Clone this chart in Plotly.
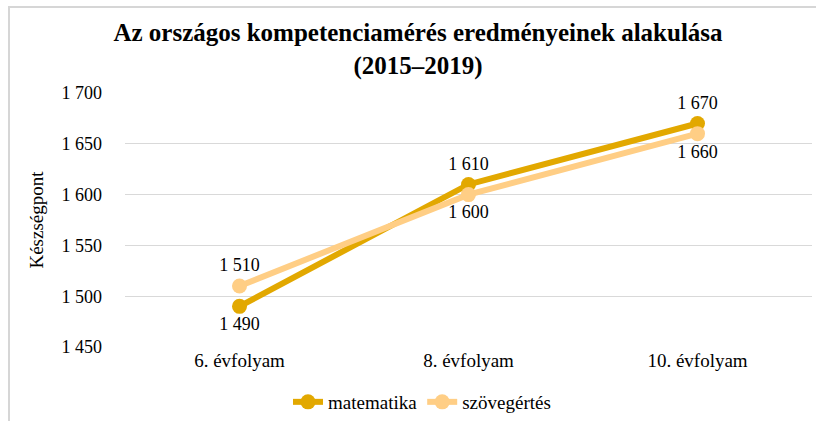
import plotly.graph_objects as go

categories = ["6. évfolyam", "8. évfolyam", "10. évfolyam"]
matematika = [1490, 1610, 1670]
szovegertes = [1510, 1600, 1660]
y_ticks = [1450, 1500, 1550, 1600, 1650, 1700]
y_tick_labels = ["1 450", "1 500", "1 550", "1 600", "1 650", "1 700"]

def fmt(v):
    return f"{v:,}".replace(",", " ")

W, H = 816, 421
L, R, T, B = 125, 4, 93, 74
pw, ph = W - L - R, H - T - B

col_m = "#E2A800"
col_s = "#FFCE85"
font = "Liberation Serif"
num_size = 18
txt_size = 19

fig = go.Figure()
fig.add_trace(go.Scatter(
    x=categories, y=matematika, name="matematika", mode="lines+markers+text",
    line=dict(color=col_m, width=6), marker=dict(size=15, color=col_m),
    text=[fmt(v) for v in matematika], textposition=["bottom center", "top center", "top center"],
    textfont=dict(family=font, size=num_size, color="#000"), cliponaxis=False))
fig.add_trace(go.Scatter(
    x=categories, y=szovegertes, name="szövegértés", mode="lines+markers+text",
    line=dict(color=col_s, width=6), marker=dict(size=15, color=col_s),
    text=[fmt(v) for v in szovegertes], textposition=["top center", "bottom center", "bottom center"],
    textfont=dict(family=font, size=num_size, color="#000"), cliponaxis=False))

def px_x(p):
    return (p - L) / pw

def px_y(p):
    return 1 - (p - T) / ph

border = dict(color="#D6D6D6", width=2)
fig.add_shape(type="line", xref="paper", yref="paper",
              x0=px_x(9), x1=px_x(W + 5), y0=px_y(7), y1=px_y(7), line=border, layer="above")
fig.add_shape(type="line", xref="paper", yref="paper",
              x0=px_x(9), x1=px_x(9), y0=px_y(6), y1=px_y(H + 5), line=border, layer="above")

fig.update_layout(
    width=W, height=H, margin=dict(l=L, r=R, t=T, b=B, autoexpand=False),
    paper_bgcolor="white", plot_bgcolor="white",
    font=dict(family=font, size=txt_size, color="#000"),
    title=dict(text="<b>Az országos kompetenciamérés eredményeinek alakulása<br>(2015–2019)</b>",
               x=418 / W, xanchor="center", y=1 - 41 / H, yanchor="middle",
               font=dict(family=font, size=25, color="#000")),
    xaxis=dict(showgrid=False, showline=False, ticks="", tickfont=dict(family=font, size=txt_size),
               range=[-0.5, 2.5], automargin=False),
    yaxis=dict(range=[1450, 1700], tickvals=y_ticks, ticktext=y_tick_labels,
               showgrid=True, gridcolor="#D9D9D9", gridwidth=1, zeroline=False,
               showline=False, ticks="", ticklabelstandoff=22, tickfont=dict(family=font, size=num_size),
               automargin=False,
               title=dict(text="Készségpont", font=dict(family=font, size=txt_size), standoff=12)),
    showlegend=True,
    legend=dict(orientation="h", x=(422 - L) / pw, xanchor="center", y=-55 / ph, yanchor="middle",
                font=dict(family=font, size=txt_size), itemwidth=30, tracegroupgap=0),
)

fig.write_html("out.html", config={"displayModeBar": False},
               post_script="document.body.style.margin='0';document.body.style.padding='0';")
